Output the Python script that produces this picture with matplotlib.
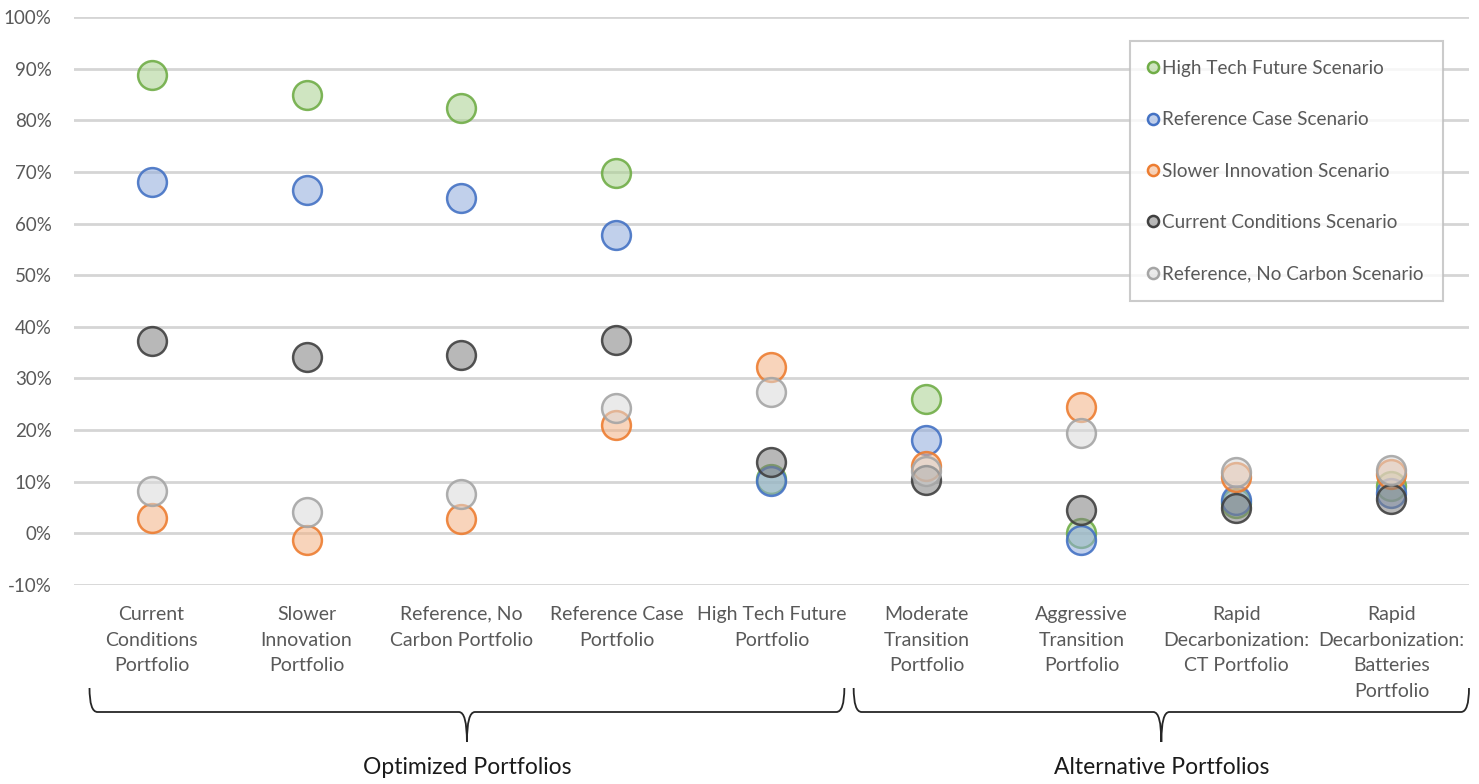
import matplotlib
matplotlib.use("Agg")
import matplotlib.pyplot as plt
from matplotlib.path import Path
from matplotlib.patches import PathPatch
from matplotlib.lines import Line2D
from matplotlib import transforms
from matplotlib.colors import to_rgba
import numpy as np

plt.rcParams['font.family'] = ['Lato', 'DejaVu Sans']

# Portfolio categories (x axis)
portfolios = [
    "Current\nConditions\nPortfolio",
    "Slower\nInnovation\nPortfolio",
    "Reference, No\nCarbon Portfolio",
    "Reference Case\nPortfolio",
    "High Tech Future\nPortfolio",
    "Moderate\nTransition\nPortfolio",
    "Aggressive\nTransition\nPortfolio",
    "Rapid\nDecarbonization:\nCT Portfolio",
    "Rapid\nDecarbonization:\nBatteries\nPortfolio",
]

# Scenario results (fraction) per portfolio
high_tech = [0.888, 0.849, 0.824, 0.698, 0.105, 0.260, 0.000, 0.058, 0.091]
reference_case = [0.680, 0.665, 0.649, 0.578, 0.101, 0.180, -0.012, 0.064, 0.079]
slower_innovation = [0.029, -0.012, 0.027, 0.209, 0.322, 0.130, 0.244, 0.110, 0.114]
current_conditions = [0.372, 0.341, 0.345, 0.374, 0.138, 0.103, 0.045, 0.050, 0.066]
ref_no_carbon = [0.083, 0.041, 0.076, 0.242, 0.273, 0.120, 0.194, 0.118, 0.122]

series = [
    ("High Tech Future Scenario", high_tech, "#70AD47", "#A9D18E"),
    ("Reference Case Scenario", reference_case, "#4472C4", "#8FAADC"),
    ("Slower Innovation Scenario", slower_innovation, "#ED7D31", "#F4B183"),
    ("Current Conditions Scenario", current_conditions, "#404040", "#7F7F7F"),
    ("Reference, No Carbon Scenario", ref_no_carbon, "#A5A5A5", "#D9D9D9"),
]

groups = [("Optimized Portfolios", -0.4, 4.47), ("Alternative Portfolios", 4.53, 8.5)]

W, H = 1479, 784
fig = plt.figure(figsize=(W / 100, H / 100), dpi=100)
ax = fig.add_axes([74 / W, 1 - 585 / H, (1469 - 74) / W, (585 - 17) / H])

x = np.arange(len(portfolios))
for name, vals, edge, face in series:
    ax.scatter(x, vals, s=430, facecolor=to_rgba(face, 0.55),
               edgecolor=to_rgba(edge, 0.9), linewidth=1.8, zorder=3, label=name)

ax.set_xlim(-0.5, len(portfolios) - 0.5)
ax.set_ylim(-0.1, 1.0)
ax.set_yticks(np.arange(-0.1, 1.001, 0.1))
ax.set_yticklabels([f"{int(round(v * 100))}%" for v in np.arange(-0.1, 1.001, 0.1)])
ax.yaxis.grid(True, color="#D5D5D5", linewidth=2)
ax.set_axisbelow(True)
for sp in ax.spines.values():
    sp.set_visible(False)
ax.tick_params(axis="both", length=0, colors="#595959")
ax.tick_params(axis="y", pad=16, labelsize=13.5)
ax.tick_params(axis="x", pad=15, labelsize=14)
ax.set_xticks(x)
ax.set_xticklabels(portfolios, linespacing=1.62)
for lab in ax.get_yticklabels():
    lab.set_horizontalalignment("right")

# Group braces beneath the category labels
tr = transforms.blended_transform_factory(ax.transData, fig.transFigure)
px_per_unit = (1469 - 74) / len(portfolios)


def fy(py):
    return 1 - py / H


def brace(x0, x1):
    xm = (x0 + x1) / 2
    r = 8 / px_per_unit
    ytop, yh, ytip = fy(688), fy(712), fy(742)
    verts = [
        (x0, ytop), (x0, yh), (x0 + r, yh),
        (xm - r, yh),
        (xm, yh), (xm, ytip),
        (xm, yh), (xm + r, yh),
        (x1 - r, yh),
        (x1, yh), (x1, ytop),
    ]
    codes = [Path.MOVETO, Path.CURVE3, Path.CURVE3, Path.LINETO,
             Path.CURVE3, Path.CURVE3, Path.CURVE3, Path.CURVE3,
             Path.LINETO, Path.CURVE3, Path.CURVE3]
    p = PathPatch(Path(verts, codes), transform=tr, fill=False,
                  edgecolor="#262626", linewidth=1.3, clip_on=False)
    fig.add_artist(p)
    return xm


for label, g0, g1 in groups:
    xm = brace(g0, g1)
    fig.text(xm, fy(768), label, transform=tr, ha="center", va="center",
             fontsize=16.5, color="#1a1a1a")

# Legend
handles = [Line2D([0], [0], marker="o", linestyle="none", markersize=8,
                  markerfacecolor=to_rgba(face, 0.55), markeredgecolor=edge,
                  markeredgewidth=1.8) for _, _, edge, face in series]
leg = fig.legend(handles, [s[0] for s in series], loc="upper left",
                 bbox_to_anchor=(1130 / W, 1 - 41 / H), fontsize=13.6,
                 labelspacing=1.82, handletextpad=0.25, handlelength=0.45,
                 borderpad=1.0, borderaxespad=0, frameon=True, fancybox=False)
leg.get_frame().set_edgecolor("#BFBFBF")
leg.get_frame().set_linewidth(1.5)
for t in leg.get_texts():
    t.set_color("#595959")

fig.savefig("out.png", dpi=100)
